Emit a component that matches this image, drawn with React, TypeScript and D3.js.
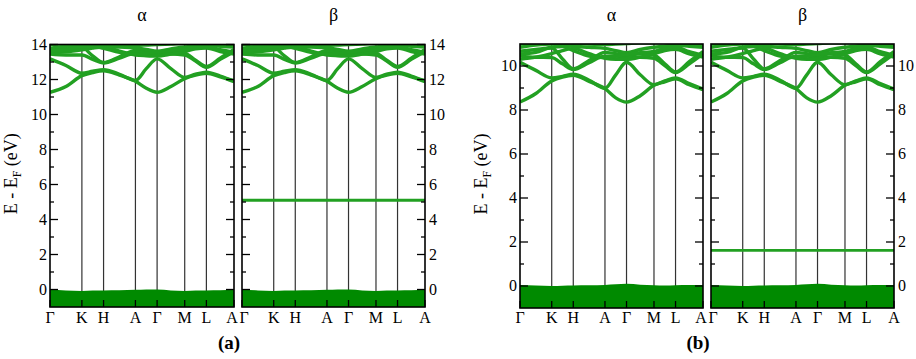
import { useEffect, useRef } from 'react';
import * as d3 from 'd3';

// high-symmetry path of the hexagonal Brillouin zone
const kLabels = ['Γ', 'K', 'H', 'A', 'Γ', 'M', 'L', 'A'];
const kPoints = [0, 1.155, 1.94, 3.094, 3.879, 4.879, 5.664, 6.664];
// sample positions along the path (k-points and the middle of each segment)
const kSamples = [0, 0.577, 1.155, 1.547, 1.94, 2.517, 3.094, 3.487, 3.879, 4.379, 4.879, 5.272, 5.664, 6.164, 6.664];

// (a) conduction bands, eV
const bandA1 = [11.27, 11.6, 12.22, 12.4, 12.5, 12.25, 11.9, 11.5, 11.27, 11.6, 12.05, 12.25, 12.35, 12.15, 11.88];
const bandA2 = [13.18, 12.8, 12.36, 12.47, 12.56, 12.3, 11.95, 12.62, 13.18, 12.62, 12.12, 12.3, 12.42, 12.2, 11.92];
const bandA3 = [13.45, 13.4, 13.4, 13.15, 12.94, 13.22, 13.5, 13.48, 13.42, 13.45, 13.4, 13.05, 12.7, 13.15, 13.6];
const bandA4 = [13.7, 13.75, 13.82, 13.35, 12.97, 13.3, 13.66, 13.6, 13.55, 13.6, 13.5, 13.1, 12.74, 13.22, 13.72];
const bandA5 = [13.78, 13.9, 13.96, 13.95, 13.9, 13.85, 13.8, 13.72, 13.62, 13.75, 13.86, 13.9, 13.95, 13.9, 13.85];
const bandA6 = [13.52, 13.58, 13.7, 13.8, 13.86, 13.62, 13.4, 13.36, 13.34, 13.45, 13.6, 13.75, 13.8, 13.6, 13.45];
const bandA7 = [13.98, 14.05, 14.1, 14.05, 14.0, 13.98, 13.95, 13.97, 14.0, 14.02, 14.05, 14.05, 14.02, 14.0, 13.98];
const bandA8 = [13.62, 13.7, 13.88, 13.9, 13.78, 13.55, 13.45, 13.5, 13.58, 13.66, 13.72, 13.82, 13.88, 13.7, 13.55];
const valenceA = [0, -0.05, -0.08, -0.06, -0.05, -0.04, -0.02, 0, 0, -0.05, -0.08, -0.06, -0.05, -0.04, -0.02];
const flatA = 5.1;

// (b) conduction bands, eV
const bandB1 = [8.36, 8.75, 9.32, 9.5, 9.58, 9.3, 8.97, 8.55, 8.36, 8.65, 9.12, 9.28, 9.42, 9.15, 8.92];
const bandB2 = [10.17, 9.8, 9.46, 9.53, 9.63, 9.35, 8.99, 9.6, 10.17, 9.6, 9.15, 9.32, 9.46, 9.2, 8.95];
const bandB3 = [10.45, 10.4, 10.38, 10.1, 9.84, 10.15, 10.45, 10.45, 10.4, 10.4, 10.35, 10.02, 9.7, 10.1, 10.55];
const bandB4 = [10.67, 10.75, 10.82, 10.32, 9.87, 10.25, 10.62, 10.56, 10.5, 10.55, 10.5, 10.1, 9.73, 10.2, 10.66];
const bandB5 = [10.85, 10.95, 11.0, 10.95, 10.9, 10.85, 10.8, 10.7, 10.6, 10.75, 10.85, 10.9, 10.95, 10.9, 10.85];
const bandB6 = [10.3, 10.4, 10.56, 10.7, 10.8, 10.56, 10.35, 10.3, 10.3, 10.4, 10.55, 10.7, 10.76, 10.55, 10.4];
const bandB7 = [11.0, 11.05, 11.1, 11.05, 11.02, 11.0, 10.98, 11.0, 11.02, 11.05, 11.05, 11.05, 11.02, 11.0, 10.98];
const bandB8 = [10.55, 10.62, 10.85, 10.88, 10.7, 10.45, 10.38, 10.44, 10.52, 10.6, 10.66, 10.8, 10.86, 10.65, 10.48];
const valenceB = [0.04, 0.02, 0, 0.01, 0.02, 0.03, 0.05, 0.08, 0.1, 0.06, 0.03, 0.02, 0.03, 0.04, 0.05];
const flatB = 1.62;

const ticksA = [0, 2, 4, 6, 8, 10, 12, 14];
const minorA = [1, 3, 5, 7, 9, 11, 13];
const ticksB = [0, 2, 4, 6, 8, 10];
const minorB = [1, 3, 5, 7, 9];

const bandsA = [bandA1, bandA2, bandA3, bandA4, bandA5, bandA6, bandA7, bandA8];
const bandsB = [bandB1, bandB2, bandB3, bandB4, bandB5, bandB6, bandB7, bandB8];

const GREEN = '#008a00';
const BAND = '#22a022';
const FONT = '"Liberation Serif", "Times New Roman", Times, serif';

const panels = [
  { id: 'aa', x0: 50, x1: 234, top: 44.5, bottom: 307, dom: [-1, 14], bands: bandsA, val: valenceA, flat: null, ticks: ticksA, minor: minorA, side: 'left', title: 'α' },
  { id: 'ab', x0: 242, x1: 425, top: 44.5, bottom: 307, dom: [-1, 14], bands: bandsA, val: valenceA, flat: flatA, ticks: ticksA, minor: minorA, side: 'right', title: 'β' },
  { id: 'ba', x0: 520, x1: 703, top: 44, bottom: 308, dom: [-1, 11], bands: bandsB, val: valenceB, flat: null, ticks: ticksB, minor: minorB, side: 'left', title: 'α' },
  { id: 'bb', x0: 711, x1: 894, top: 44, bottom: 308, dom: [-1, 11], bands: bandsB, val: valenceB, flat: flatB, ticks: ticksB, minor: minorB, side: 'right', title: 'β' },
];

export default function App() {
  const svgRef = useRef<SVGSVGElement>(null);

  useEffect(() => {
    const svg = d3.select(svgRef.current);
    svg.selectAll('*').remove();
    const defs = svg.append('defs');

    panels.forEach((p) => {
      const x = d3.scaleLinear().domain([0, kPoints[kPoints.length - 1]]).range([p.x0, p.x1]);
      const y = d3.scaleLinear().domain(p.dom).range([p.bottom, p.top]);
      const g = svg.append('g');

      defs.append('clipPath').attr('id', `clip-${p.id}`)
        .append('rect')
        .attr('x', p.x0).attr('y', p.top)
        .attr('width', p.x1 - p.x0).attr('height', p.bottom - p.top);

      // vertical lines at high-symmetry points
      g.selectAll('.kline')
        .data(kPoints.slice(1, -1))
        .enter()
        .append('line')
        .attr('x1', d => x(d)).attr('x2', d => x(d))
        .attr('y1', p.top).attr('y2', p.bottom)
        .attr('stroke', '#333')
        .attr('stroke-width', 1.2);

      const plot = g.append('g').attr('clip-path', `url(#clip-${p.id})`);

      // valence manifold
      const area = d3.area<number>()
        .x((_, i) => x(kSamples[i]))
        .y0(y(p.dom[0]) + 2)
        .y1(d => y(d))
        .curve(d3.curveMonotoneX);
      plot.append('path').attr('d', area(p.val)).attr('fill', GREEN);

      const line = d3.line<number>()
        .x((_, i) => x(kSamples[i]))
        .y(d => y(d))
        .curve(d3.curveMonotoneX);

      plot.selectAll('.band')
        .data(p.bands)
        .enter()
        .append('path')
        .attr('d', d => line(d))
        .attr('fill', 'none')
        .attr('stroke', BAND)
        .attr('stroke-width', 3.4)
        .attr('stroke-linejoin', 'round');

      if (p.flat !== null) {
        plot.append('line')
          .attr('x1', p.x0).attr('x2', p.x1)
          .attr('y1', y(p.flat)).attr('y2', y(p.flat))
          .attr('stroke', BAND)
          .attr('stroke-width', 2.8);
      }

      // x ticks (inward) and labels
      g.selectAll('.xtick')
        .data(kPoints)
        .enter()
        .append('line')
        .attr('x1', d => x(d)).attr('x2', d => x(d))
        .attr('y1', p.bottom).attr('y2', p.bottom - 7)
        .attr('stroke', '#000').attr('stroke-width', 1.3);

      const last = kLabels.length - 1;
      g.selectAll('.xlab')
        .data(kLabels)
        .enter()
        .append('text')
        .attr('x', (_, i) => x(kPoints[i]) + (i === 0 && p.side === 'right' ? 2 : 0) - (i === last && p.side === 'left' ? 2 : 0))
        .attr('y', 323)
        .attr('text-anchor', 'middle')
        .attr('font-family', FONT)
        .attr('font-size', 16)
        .text(d => d);

      // y ticks on both sides, inward
      [p.x0, p.x1].forEach((edge) => {
        const dir = edge === p.x0 ? 1 : -1;
        g.selectAll(null)
          .data(p.ticks)
          .enter()
          .append('line')
          .attr('x1', edge).attr('x2', edge + dir * 8)
          .attr('y1', d => y(d)).attr('y2', d => y(d))
          .attr('stroke', '#000').attr('stroke-width', 1.3);
        g.selectAll(null)
          .data(p.minor)
          .enter()
          .append('line')
          .attr('x1', edge).attr('x2', edge + dir * 4)
          .attr('y1', d => y(d)).attr('y2', d => y(d))
          .attr('stroke', '#000').attr('stroke-width', 1.3);
      });

      g.selectAll('.ylab')
        .data(p.ticks)
        .enter()
        .append('text')
        .attr('x', p.side === 'left' ? p.x0 - 3 : p.x1 + 4)
        .attr('y', d => y(d) + 5)
        .attr('text-anchor', p.side === 'left' ? 'end' : 'start')
        .attr('font-family', FONT)
        .attr('font-size', 16)
        .text(d => d);

      // frame
      g.append('rect')
        .attr('x', p.x0).attr('y', p.top)
        .attr('width', p.x1 - p.x0).attr('height', p.bottom - p.top)
        .attr('fill', 'none')
        .attr('stroke', '#000')
        .attr('stroke-width', 1.6);

      g.append('text')
        .attr('x', (p.x0 + p.x1) / 2)
        .attr('y', 21)
        .attr('text-anchor', 'middle')
        .attr('font-family', FONT)
        .attr('font-size', 18)
        .text(p.title);

      if (p.side === 'left') {
        const t = svg.append('text')
          .attr('transform', `translate(${p.x0 - 33},${(p.top + p.bottom) / 2 - 2}) rotate(-90)`)
          .attr('text-anchor', 'middle')
          .attr('font-family', FONT)
          .attr('font-size', 18);
        t.append('tspan').text('E - E');
        t.append('tspan').attr('dy', 4).attr('font-size', 12).text('F');
        t.append('tspan').attr('dy', -4).text(' (eV)');
      }
    });

    [{ label: '(a)', cx: 229 }, { label: '(b)', cx: 698 }].forEach((c) => {
      svg.append('text')
        .attr('x', c.cx).attr('y', 349)
        .attr('text-anchor', 'middle')
        .attr('font-family', FONT)
        .attr('font-size', 19)
        .attr('font-weight', 'bold')
        .text(c.label);
    });
  }, []);

  return (
    <div style={{ position: 'fixed', left: 0, top: 0, background: '#fff' }}>
      <svg ref={svgRef} width={916} height={359} style={{ display: 'block' }}></svg>
    </div>
  );
}
